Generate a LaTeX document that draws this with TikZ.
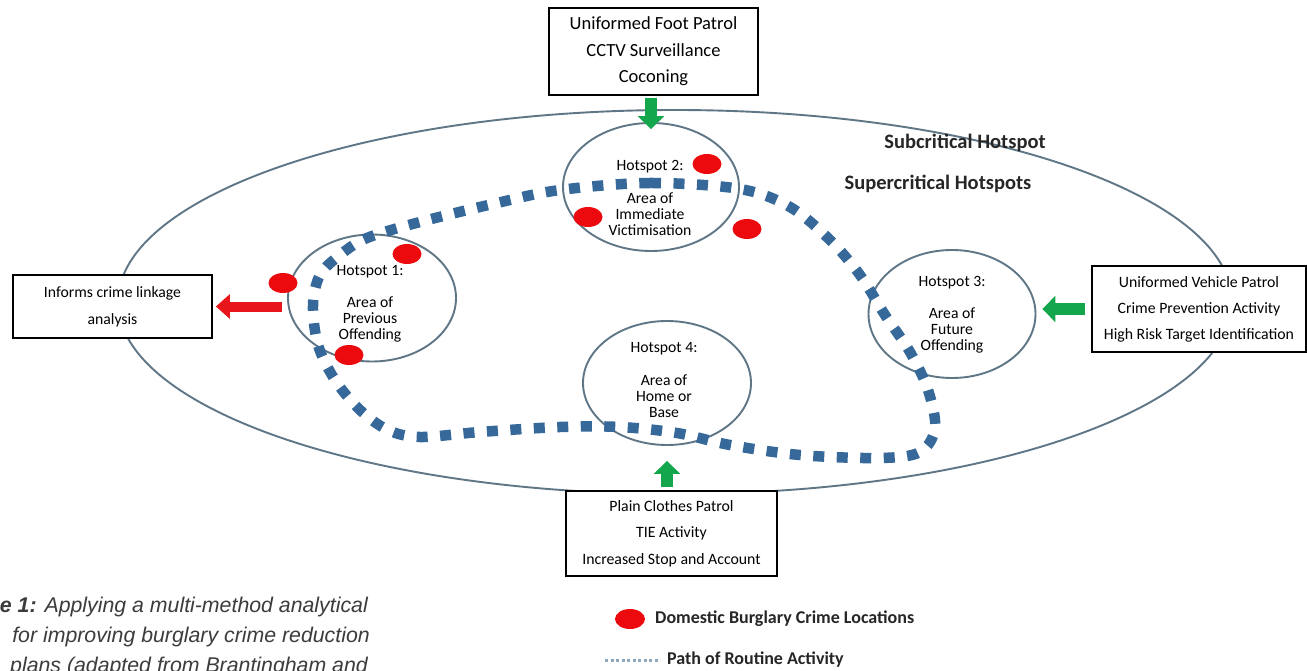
\documentclass[tikz,border=0pt]{standalone}
\usepackage{fontspec}
\setmainfont{Carlito}
\newfontfamily\capfont{Liberation Sans}
\usetikzlibrary{shapes.geometric,arrows.meta}
\definecolor{hotc}{HTML}{5F7687}
\definecolor{dotred}{HTML}{EC0A0E}
\definecolor{arrgreen}{HTML}{14A64C}
\definecolor{arrred}{HTML}{E8161B}
\definecolor{routec}{HTML}{36689A}
\definecolor{legroute}{HTML}{8FA8BE}
\definecolor{capc}{HTML}{3C3C3C}
\tikzset{
  hot/.style={ellipse, draw=hotc, line width=1.9pt, inner sep=0pt},
  hottext/.style={align=center, inner sep=0pt, font=\fontsize{15.7}{16}\selectfont},
  infobox/.style={draw=black, line width=1.8pt, fill=white, align=center, inner sep=0pt},
  crimedot/.style={ellipse, fill=dotred, minimum width=29pt, minimum height=20pt, inner sep=0pt},
  garrow/.style={draw=arrgreen, line width=12pt, -{Triangle[width=26pt,length=13pt]}},
  rarrow/.style={draw=arrred, line width=10pt, -{Triangle[width=24pt,length=14pt]}},
  route/.style={draw=routec, line width=10.5pt, dash pattern=on 11pt off 12.5pt},
  biglabel/.style={font=\bfseries\fontsize{20.5}{22}\selectfont, text=black!85, inner sep=0pt},
  leglabel/.style={font=\bfseries\fontsize{18}{20}\selectfont, text=black!85, inner sep=0pt, anchor=west},
  captext/.style={font=\capfont\itshape\fontsize{21.3}{23}\selectfont, text=capc, inner sep=0pt, anchor=base east}
}
\begin{document}
\begin{tikzpicture}[x=1pt,y=-1pt]
\useasboundingbox (0,0) rectangle (1307,671);
\clip (0,0) rectangle (1307,671);
\fill[white] (0,0) rectangle (1307,671);

% outer ellipse
\node[ellipse, draw=hotc, line width=1.9pt, minimum width=1114pt, minimum height=384pt, inner sep=0pt] (sub) at (675,302) {};

% hotspots
\node[hot, minimum width=168pt, minimum height=127pt] (h1) at (372,298) {};
\node[hot, minimum width=176pt, minimum height=128pt] (h2) at (651,187) {};
\node[hot, minimum width=167pt, minimum height=128pt] (h3) at (952,314) {};
\node[hot, minimum width=168pt, minimum height=124pt] (h4) at (667,383) {};

% route of routine activity
\draw[route] plot[smooth cycle, tension=0.55] coordinates {
 (560,190) (650,183) (740,189) (790,207) (830,240) (860,275) (885,315) (910,352)
 (928,390) (935,428) (920,452) (880,458) (800,455) (730,445) (677,433) (620,427)
 (560,427) (480,432) (420,437) (388,430) (360,410) (335,380) (318,345) (313,305)
 (320,275) (340,255) (367,238) (420,222) (497,203)};

% crime locations
\node[crimedot] (d1) at (707,164) {};
\node[crimedot] (d2) at (588,217) {};
\node[crimedot] (d3) at (747,229) {};
\node[crimedot] (d4) at (407,254) {};
\node[crimedot] (d5) at (283,283) {};
\node[crimedot] (d6) at (349,355) {};

% hotspot texts
\node[hottext] (t1) at (370,304) {Hotspot 1:\\[16pt]Area of\\Previous\\Offending};
\node[hottext] (t2) at (650,198) {Hotspot 2:\\[17pt]Area of\\Immediate\\Victimisation};
\node[hottext] (t3) at (952,315) {Hotspot 3:\\[16pt]Area of\\Future\\Offending};
\node[hottext] (t4) at (664,380) {Hotspot 4:\\[17pt]Area of\\Home or\\Base};

% boxes
\node[infobox, minimum width=209pt, minimum height=87pt, font=\fontsize{18.5}{26.5}\selectfont] (topbox) at (653.5,51.5) {Uniformed Foot Patrol\\CCTV Surveillance\\Coconing};
\node[infobox, minimum width=214pt, minimum height=86pt, font=\fontsize{15.8}{26}\selectfont] (rbox) at (1199,309) {Uniformed Vehicle Patrol\\Crime Prevention Activity\\High Risk Target Identification};
\node[infobox, minimum width=211pt, minimum height=85pt, font=\fontsize{15.8}{26.5}\selectfont] (bbox) at (671.5,533.5) {Plain Clothes Patrol\\TIE Activity\\Increased Stop and Account};
\node[infobox, minimum width=199pt, minimum height=63pt, font=\fontsize{15.7}{27}\selectfont] (lbox) at (112.5,306.5) {Informs crime linkage\\analysis};

% arrows
\draw[garrow] ([yshift=-2pt]topbox.south -| h2.north) -- ([yshift=-7pt]h2.north);
\draw[garrow] ([xshift=-6pt]rbox.west) -- ([xshift=6pt]rbox.west -| h3.east);
\draw[garrow] ([yshift=3pt]bbox.north -| h4.south) -- ([yshift=-15pt]h4.south);
\draw[rarrow] ([xshift=-5pt]h1.west |- lbox.east) -- ([xshift=3pt]lbox.east);

% region labels
\node[biglabel] (lsub) at (965,143) {Subcritical Hotspot};
\node[biglabel] (lsup) at (938,184) {Supercritical Hotspots};

% legend
\node[crimedot, minimum width=30pt, minimum height=20pt] (ldot) at (630,619) {};
\node[leglabel] (ldottext) at (655,619) {Domestic Burglary Crime Locations};
\coordinate (lr1) at (605,660);
\coordinate (lr2) at (660,660);
\draw[draw=legroute, line width=3pt, dash pattern=on 3pt off 2.5pt] (lr1) -- (lr2);
\node[leglabel] (lroutetext) at (667,660) {Path of Routine Activity};

% caption (cut off at the picture's edges, as in the reference)
\node[captext] (c1) at (368,612) {{\bfseries e 1:} Applying a multi-method analytical};
\node[captext] (c2) at (370,642) {for improving burglary crime reduction};
\node[captext] (c3) at (368,672) {plans (adapted from Brantingham and};
\end{tikzpicture}
\end{document}
